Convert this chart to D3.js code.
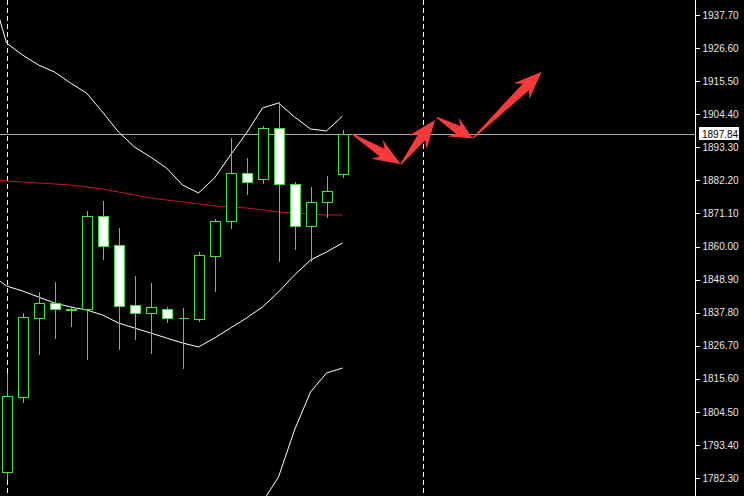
<!DOCTYPE html>
<html>
<head>
<meta charset="utf-8">
<script src="https://cdn.jsdelivr.net/npm/d3@7"></script>
<style>
  html, body { margin: 0; padding: 0; background: #000; }
  svg { display: block; }
  .axis text { font-family: "Liberation Sans", Arial, sans-serif; font-size: 10px; fill: #e8e8e8; }
  .axis line { stroke: #fff; }
</style>
</head>
<body>
<div id="chart"></div>
<script>
// Candles, one per bar, bar 0 is the first one on screen.
var opens  = [1784.31, 1809.49, 1836.00, 1841.04, 1838.85, 1839.02, 1870.24, 1860.50, 1840.36, 1837.68, 1839.02,
              1836.00, 1835.67, 1856.81, 1868.56, 1884.67, 1882.66, 1899.77, 1880.98, 1866.88, 1874.94, 1884.33];
var highs  = [1817.54, 1837.68, 1844.73, 1848.08, 1840.03, 1871.91, 1875.27, 1866.21, 1850.10, 1847.75, 1839.69,
              1839.36, 1858.15, 1869.23, 1896.42, 1889.70, 1900.44, 1908.50, 1881.65, 1879.97, 1883.66, 1899.10];
var lows   = [1781.63, 1807.47, 1823.58, 1828.95, 1832.98, 1821.90, 1855.47, 1825.26, 1828.62, 1823.92, 1834.32,
              1818.88, 1834.66, 1844.73, 1865.87, 1877.28, 1880.98, 1854.80, 1858.82, 1854.80, 1869.57, 1882.99];
var closes = [1809.82, 1836.34, 1841.04, 1839.02, 1838.95, 1870.24, 1860.17, 1840.03, 1837.68, 1839.69, 1836.00,
              1836.10, 1857.15, 1868.56, 1884.67, 1881.65, 1899.77, 1880.98, 1866.88, 1874.94, 1878.63, 1897.84];

// Indicator lines. They start one bar earlier (bar -1, off screen).
var upperBand = [1946.96, 1928.30, 1924.27, 1920.92, 1918.57, 1914.88, 1911.52, 1905.14, 1898.43, 1893.40, 1890.04, 1886.35,
                 1880.64, 1877.96, 1882.99, 1890.71, 1898.09, 1906.49, 1908.16, 1903.47, 1899.44, 1898.77, 1903.80];
var lowerBand = [1850.77, 1846.74, 1845.06, 1843.05, 1841.04, 1839.69, 1838.69, 1837.01, 1834.32, 1832.64, 1830.97, 1829.29,
                 1827.61, 1826.27, 1829.29, 1832.64, 1836.00, 1839.69, 1844.73, 1850.43, 1855.47, 1858.15, 1861.18];
var outerBand = [null, null, null, null, null, null, null, null, null, null, null, null,
                 null, null, null, null, 1759.81, 1774.24, 1782.63, 1798.41, 1811.17, 1817.54, 1819.22];
var movingAvg = [1882.66, 1881.98, 1881.65, 1881.31, 1880.98, 1880.64, 1879.97, 1879.30, 1878.29, 1877.28, 1876.28, 1875.61,
                 1874.94, 1874.26, 1873.59, 1873.26, 1872.92, 1872.25, 1871.58, 1871.24, 1870.91, 1870.57, 1870.57];
var lineStart = -1;

// Price scale labels and the current price.
var tickLabels = ['1937.70', '1926.60', '1915.50', '1904.40', '1893.30', '1882.20', '1871.10', '1860.00',
                  '1848.90', '1837.80', '1826.70', '1815.60', '1804.50', '1793.40', '1782.30'];
var lastPrice = 1897.84;

// Period separators (bar index).
var separators = [0, 26];

// Forecast zigzag drawn as arrows: [bar, price].
var arrowPoints = [[21.61, 1897.76], [24.64, 1887.59], [26.78, 1902.46]];
var arrowPoints2 = [[26.88, 1903.36], [29.14, 1896.32], [33.45, 1918.67]];

(function() {
  'use strict';

  var width = 744, height = 496;
  var axisX = 695.5;
  var green = '#3fe03f';

  var svg = d3.select('#chart').append('svg')
      .attr('width', width)
      .attr('height', height)
      .style('background', '#000');

  svg.append('defs').append('clipPath').attr('id', 'plot')
    .append('rect').attr('x', 0).attr('y', 0).attr('width', axisX).attr('height', height);

  var tickValues = tickLabels.map(Number);
  var y = d3.scaleLinear()
      .domain([d3.min(tickValues), d3.max(tickValues)])
      .range([478, 15]);
  // One bar every 16px.
  var x = d3.scaleLinear().domain([0, 1]).range([6.5, 22.5]);

  var plot = svg.append('g').attr('clip-path', 'url(#plot)');

  // Period separators.
  plot.selectAll('.sep').data(separators).enter()
    .append('line')
      .attr('x1', function(d) { return Math.round(x(d)) + 0.5; })
      .attr('x2', function(d) { return Math.round(x(d)) + 0.5; })
      .attr('y1', 0).attr('y2', height)
      .attr('stroke', '#fff')
      .attr('stroke-dasharray', '5,3');

  // Current price line.
  plot.append('line')
      .attr('x1', 0).attr('x2', axisX)
      .attr('y1', Math.round(y(lastPrice)) + 0.5)
      .attr('y2', Math.round(y(lastPrice)) + 0.5)
      .attr('stroke', '#a9aab8');

  // Indicator lines.
  function drawLine(values, colour) {
    var line = d3.line()
        .defined(function(d) { return d !== null; })
        .x(function(d, i) { return x(i + lineStart); })
        .y(function(d) { return y(d); });
    plot.append('path')
        .datum(values)
        .attr('d', line)
        .attr('fill', 'none')
        .attr('stroke', colour)
        .attr('stroke-width', 1);
  }
  drawLine(movingAvg, '#c8122a');
  drawLine(upperBand, '#fff');
  drawLine(lowerBand, '#fff');
  drawLine(outerBand, '#fff');

  // Candles.
  var candles = opens.map(function(o, i) {
    return {i: i, o: o, h: highs[i], l: lows[i], c: closes[i]};
  });

  var g = plot.selectAll('.candle').data(candles).enter()
    .append('g')
      .attr('class', 'candle')
      .attr('shape-rendering', 'crispEdges');

  g.append('line')
      .attr('x1', function(d) { return Math.round(x(d.i)) + 0.5; })
      .attr('x2', function(d) { return Math.round(x(d.i)) + 0.5; })
      .attr('y1', function(d) { return y(d.h); })
      .attr('y2', function(d) { return y(d.l); })
      .attr('stroke', green);

  g.append('path')
      .attr('d', function(d) {
        var cx = Math.round(x(d.i)) + 0.5;
        var top = Math.round(y(Math.max(d.o, d.c))) + 0.5;
        var bot = Math.round(y(Math.min(d.o, d.c))) + 0.5;
        return 'M' + (cx - 5) + ',' + top + 'H' + (cx + 5) + 'V' + bot + 'H' + (cx - 5) + 'Z';
      })
      .attr('fill', function(d) { return d.c >= d.o ? '#000' : '#fff'; })
      .attr('stroke', green);

  // Tapered arrow from p to q (pixel space).
  function arrowPath(p, q) {
    var dx = q[0] - p[0], dy = q[1] - p[1];
    var len = Math.sqrt(dx * dx + dy * dy);
    var ux = dx / len, uy = dy / len, nx = -uy, ny = ux;
    var head = Math.min(22, len * 0.4), shaft = 4.5, barb = 11, back = 6;
    function pt(along, side) {
      return [p[0] + ux * along + nx * side, p[1] + uy * along + ny * side];
    }
    var pts = [
      pt(0, 0.6),
      pt(len - head, shaft),
      pt(len - head - back, barb),
      [q[0], q[1]],
      pt(len - head - back, -barb),
      pt(len - head, -shaft),
      pt(0, -0.6)
    ];
    return 'M' + pts.map(function(a) { return a[0].toFixed(1) + ',' + a[1].toFixed(1); }).join('L') + 'Z';
  }

  var segs = [];
  [arrowPoints, arrowPoints2].forEach(function(list) {
    for (var k = 0; k < list.length - 1; k++) {
      segs.push([[x(list[k][0]), y(list[k][1])], [x(list[k + 1][0]), y(list[k + 1][1])]]);
    }
  });
  plot.selectAll('.arrow').data(segs).enter()
    .append('path')
      .attr('class', 'arrow')
      .attr('d', function(d) { return arrowPath(d[0], d[1]); })
      .attr('fill', '#fa3a3a');

  // Price scale on the right.
  svg.append('line')
      .attr('x1', axisX).attr('x2', axisX)
      .attr('y1', 0).attr('y2', height)
      .attr('stroke', '#fff')
      .attr('shape-rendering', 'crispEdges');

  var yAxis = d3.axisRight(y)
      .tickValues(tickValues)
      .tickFormat(function(d, i) { return tickLabels[i]; })
      .tickSize(4)
      .tickPadding(3);

  var axisG = svg.append('g')
      .attr('class', 'axis')
      .attr('transform', 'translate(' + axisX + ',0)')
      .attr('shape-rendering', 'crispEdges')
      .call(yAxis);
  axisG.select('.domain').remove();

  // Current price tag.
  var py = Math.round(y(lastPrice));
  svg.append('rect')
      .attr('x', 699).attr('y', py - 7)
      .attr('width', 40).attr('height', 13)
      .attr('fill', '#fff');
  svg.append('text')
      .attr('x', 702).attr('y', py)
      .attr('dy', '0.35em')
      .style('font-family', '"Liberation Sans", Arial, sans-serif')
      .style('font-size', '10px')
      .attr('fill', '#000')
      .text(lastPrice.toFixed(2));
}());
</script>
</body>
</html>
